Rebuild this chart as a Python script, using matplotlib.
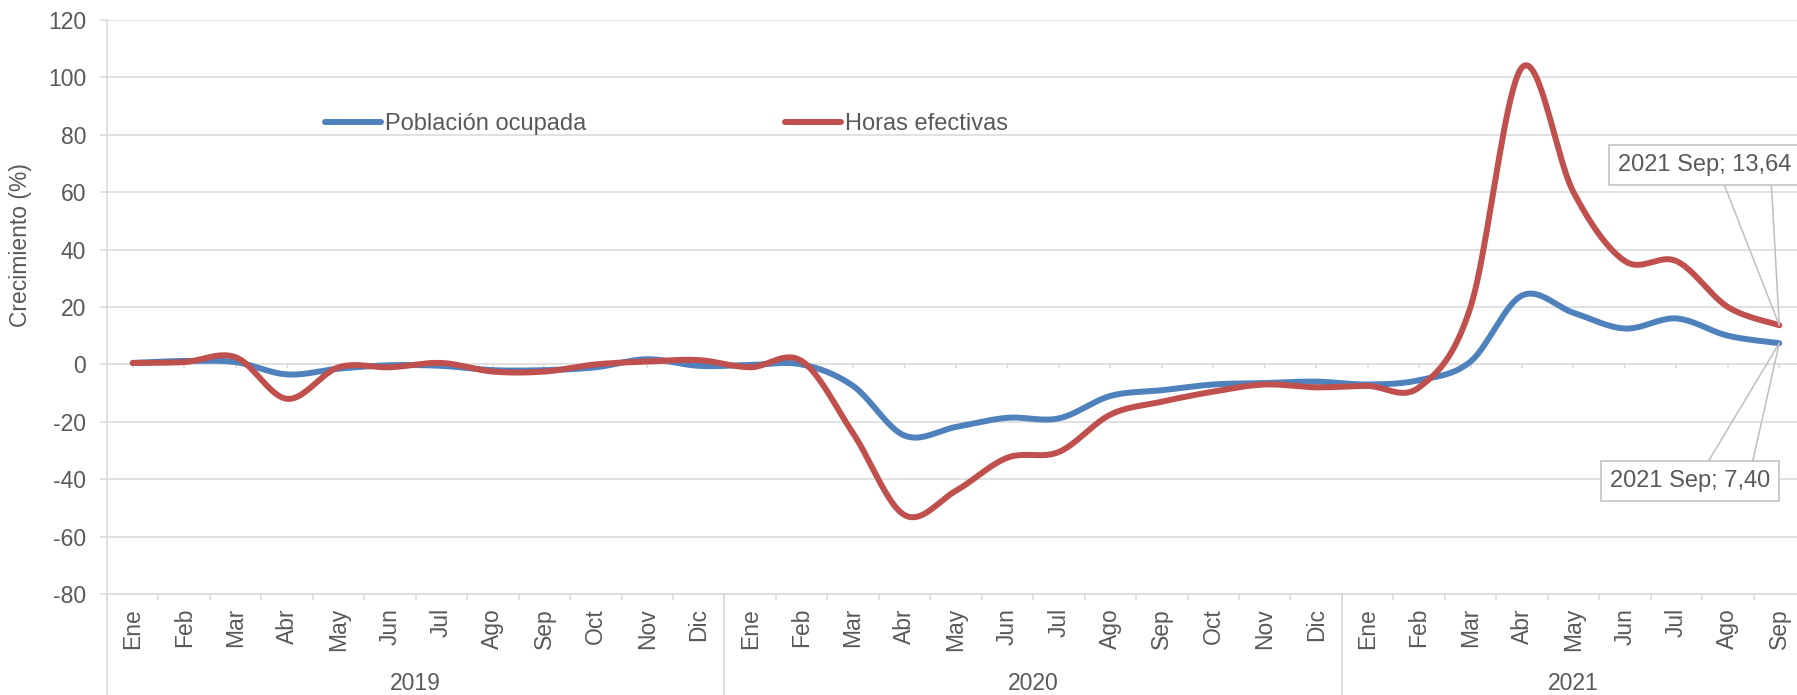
import numpy as np
import matplotlib
matplotlib.use('Agg')
import matplotlib.pyplot as plt

plt.rcParams['font.family'] = ['Liberation Sans', 'DejaVu Sans']
plt.rcParams['axes.unicode_minus'] = False

meses = ['Ene', 'Feb', 'Mar', 'Abr', 'May', 'Jun', 'Jul', 'Ago', 'Sep', 'Oct', 'Nov', 'Dic']
anios = ['2019', '2020', '2021']
meses_por_anio = [12, 12, 9]
etiquetas = meses + meses + meses[:9]

poblacion = [0.5, 1.2, 0.8, -3.5, -1.5, -0.3, -0.5, -2.0, -2.0, -1.0, 1.8, -0.5,
             -0.2, 0.0, -7.5, -24.8, -21.8, -18.6, -18.8, -11.0, -9.0, -7.0, -6.5, -6.0,
             -7.0, -5.5, 1.0, 24.0, 18.0, 12.5, 16.0, 10.0, 7.40]
horas = [0.5, 0.8, 2.5, -12.0, -1.0, -1.0, 0.5, -2.5, -2.5, 0.0, 1.0, 1.5,
         -1.0, 1.2, -24.0, -52.5, -44.0, -32.5, -30.5, -17.5, -13.0, -9.5, -7.0, -8.0,
         -7.5, -8.0, 20.0, 103.5, 60.0, 36.0, 36.0, 20.0, 13.64]

gris = '#595959'
rejilla = '#d9d9d9'


def suavizar(y, n=24):
    # curva tipo Excel (Bezier con tangentes Catmull-Rom)
    p = np.column_stack([np.arange(len(y)), np.asarray(y, float)])
    t = np.linspace(0, 1, n)[:, None]
    xs, ys = [], []
    for i in range(len(p) - 1):
        p0 = p[max(i - 1, 0)]
        p1 = p[i]
        p2 = p[i + 1]
        p3 = p[min(i + 2, len(p) - 1)]
        c1 = p1 + (p2 - p0) / 6
        c2 = p2 - (p3 - p1) / 6
        b = (1 - t) ** 3 * p1 + 3 * (1 - t) ** 2 * t * c1 + 3 * (1 - t) * t ** 2 * c2 + t ** 3 * p2
        xs.append(b[:, 0])
        ys.append(b[:, 1])
    return np.concatenate(xs), np.concatenate(ys)


fig = plt.figure(figsize=(17.97, 6.95), dpi=100)
ax = fig.add_axes([107 / 1797, 1 - 594 / 695, (1805 - 107) / 1797, (594 - 20) / 695])

n = len(etiquetas)
x = np.arange(n)

xs, ys = suavizar(poblacion)
ax.plot(xs, ys, color='#4f81bd', lw=4.3, solid_capstyle='round', label='Población ocupada', zorder=3)
xs, ys = suavizar(horas)
ax.plot(xs, ys, color='#c0504d', lw=4.3, solid_capstyle='round', label='Horas efectivas', zorder=3)

ax.set_xlim(-0.5, n - 0.5)
ax.set_ylim(-80, 120)
ax.set_yticks(np.arange(-80, 121, 20))
ax.grid(axis='y', color=rejilla, lw=1.1)
ax.set_axisbelow(True)

for s in ['top', 'right']:
    ax.spines[s].set_visible(False)
for s in ['left', 'bottom']:
    ax.spines[s].set_color(rejilla)
    ax.spines[s].set_linewidth(1.1)

ax.tick_params(axis='y', colors=rejilla, labelcolor=gris, labelsize=16.5, length=5, width=1.1, pad=10)
ax.set_xticks(x)
ax.set_xticklabels(etiquetas, rotation=90, va='top', ha='center')
ax.tick_params(axis='x', which='major', length=0, pad=10, labelsize=16.5, labelcolor=gris)
ax.set_xticks(np.arange(-0.5, n, 1), minor=True)
ax.tick_params(axis='x', which='minor', length=4, width=1.1, color=rejilla)

# marcas sobre la línea del cero
sec = ax.secondary_xaxis(0.4)
sec.set_xticks(x)
sec.set_xticklabels([])
sec.tick_params(length=3, width=1.1, color=rejilla)
sec.spines['bottom'].set_visible(False)

# separadores y etiquetas de años
inicio = 0
trans = ax.get_xaxis_transform()
ax.plot([-0.5, -0.5], [0, -0.2], transform=trans, color=rejilla, lw=1.1, clip_on=False)
for anio, m in zip(anios, meses_por_anio):
    fin = inicio + m
    ax.plot([fin - 0.5, fin - 0.5], [0, -0.2], transform=trans, color=rejilla, lw=1.1, clip_on=False)
    ax.text((inicio + fin - 1) / 2, -(684 - 594) / 574, anio, transform=trans,
            ha='center', va='center', fontsize=16.5, color=gris)
    inicio = fin

fig.text(21 / 1797, 1 - 245 / 695, 'Crecimiento (%)', rotation=90, ha='center', va='center',
         fontsize=16.5, color=gris)

ax.legend(loc='center left', bbox_to_anchor=(325 / 1797, 1 - 124 / 695), bbox_transform=fig.transFigure,
          ncol=2, frameon=False, fontsize=17, handlelength=2.37, handletextpad=0.17,
          columnspacing=8.43, borderpad=0, borderaxespad=0, labelcolor=gris)

# etiquetas de datos con líneas guía
caja = dict(boxstyle='square,pad=0.38', fc='white', ec='#bfbfbf', lw=1.1)
guia = dict(arrowstyle='-', color='#bfbfbf', lw=1.1, shrinkA=0, shrinkB=0)
ultimo = n - 1
anotaciones = [
    (horas[-1], (-161, 160), [(-56, 143), (-8, 143)]),
    (poblacion[-1], (-169, -138), [(-72, -120), (-27, -120)]),
]
for valor, pos, lineas in anotaciones:
    for d in lineas:
        ax.annotate('', xy=(ultimo, valor), xytext=d, textcoords='offset pixels', arrowprops=guia,
                    annotation_clip=False)
    ax.annotate('2021 Sep; ' + f'{valor:.2f}'.replace('.', ','), xy=(ultimo, valor), xytext=pos,
                textcoords='offset pixels', ha='left', va='center', fontsize=17, color=gris,
                bbox=caja, annotation_clip=False, zorder=5)

fig.savefig('out.png', dpi=100)
